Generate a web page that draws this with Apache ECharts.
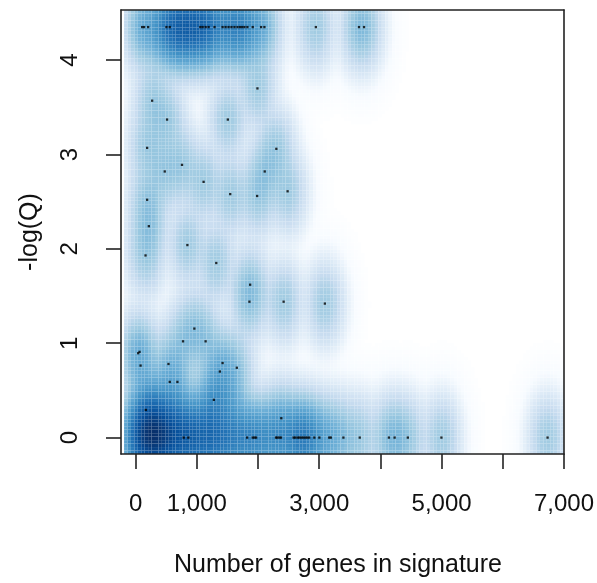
<!DOCTYPE html>
<html><head><meta charset="utf-8">
<script src="https://cdn.jsdelivr.net/npm/echarts@6/dist/echarts.min.js"></script>
<style>html,body{margin:0;padding:0;background:#fff}#chart{width:597px;height:583px}</style>
</head><body><div id="chart"></div>
<script>
// Signatures drawn as dots (the lowest-density ones): genes in signature, -log(Q)
const markedGenes = [
  106,138,204,503,557,1057,1094,1143,1192,1289,1420,1469,1518,1566,1615,1664,1705,1741,1778,1826,1913,2050,2104,2945,3650,3732,
  785,861,1822,1913,1941,1968,2294,2315,2348,2375,2581,2608,2646,2673,2706,2738,2771,2803,2836,2920,3002,3163,3190,3395,3662,4139,4232,4448,4997,6732,
  513,1506,269,1990,187,2299,757,475,2109,1110,1545,1985,2483,187,215,845,161,1317,1871,1859,2418,3092,
  959,774,1143,41,63,80,536,557,682,1420,1376,1653,2380,166,1278
];
const markedNegLogQ = [
  4.35,4.35,4.35,4.35,4.35,4.35,4.35,4.35,4.35,4.35,4.35,4.35,4.35,4.35,4.35,4.35,4.35,4.35,4.35,4.35,4.35,4.35,4.35,4.35,4.35,4.35,
  0,0,0,0,0,0,0,0,0,0,0,0,0,0,0,0,0,0,0,0,0,0,0,0,0,0,0,0,0,0,
  3.37,3.37,3.57,3.70,3.07,3.06,2.89,2.82,2.82,2.71,2.58,2.56,2.61,2.52,2.24,2.04,1.93,1.85,1.62,1.44,1.44,1.42,
  1.155,1.02,1.02,0.894,0.908,0.763,0.78,0.59,0.59,0.79,0.70,0.74,0.205,0.293,0.40
];
// Signatures in dense areas (not drawn as dots): location and number of signatures
const denseGenes = [
  0,100,200,300,400,500,600,700,800,900,1000,1100,1200,1300,1400,1500,1600,1700,1800,2000,2100,2200,
  100,250,400,550,200,700,900,1200,1400,1600,
  400,500,600,700,800,900,1000,1100,1200,1300
];
const denseNegLogQ = [
  0,0,0,0,0,0,0,0,0,0,0,0,0,0,0,0,0,0,0,0,0,0,
  0.15,0.2,0.25,0.2,0.45,0.3,0.2,0.35,0.45,0.4,
  4.35,4.35,4.35,4.35,4.35,4.35,4.35,4.35,4.35,4.35
];
const denseCount = [
  3,6,7,7,6,5,4,3,3,3,3,3,3,3,3,2,2,2,1,1,1,1,
  2,3,2,2,1,1,1,2,2,1,
  1,2,3,4,4,4,3,2,1,1
];
const xTickValues = [0,1000,2000,3000,4000,5000,6000,7000];
const xLabelValues = [0,1000,3000,5000,7000];
const yTickValues = [0,1,2,3,4];
const blues9 = ['#F7FBFF','#DEEBF7','#C6DBEF','#9ECAE1','#6BAED6','#4292C6','#2171B5','#08519C','#08306B'];

// smoothed density (Gaussian kernel) on a 128 x 128 grid, as in smoothScatter
const X0 = -190, X1 = 7000, Y0 = -0.174, Y1 = 4.531, NB = 128;
const bx = 150, by = 0.21;
const pts = [];
markedGenes.forEach((g, i) => pts.push([g, markedNegLogQ[i], 1]));
denseGenes.forEach((g, i) => pts.push([g, denseNegLogQ[i], denseCount[i]]));
const dx = (X1 - X0) / NB, dy = (Y1 - Y0) / NB;
const cells = [];
let maxV = 0;
for (let i = 0; i < NB; i++) {
  for (let j = 0; j < NB; j++) {
    const cx = X0 + (i + 0.5) * dx, cy = Y0 + (j + 0.5) * dy;
    let s = 0;
    for (const p of pts) {
      const u = (cx - p[0]) / bx, v = (cy - p[1]) / by;
      const e = 0.5 * (u * u + v * v);
      if (e < 12) s += p[2] * Math.exp(-e);
    }
    const t = Math.pow(s, 0.25);
    if (t > maxV) maxV = t;
    cells.push([X0 + i * dx, Y0 + j * dy, X0 + (i + 1) * dx, Y0 + (j + 1) * dy, t]);
  }
}
cells.forEach(c => c[4] = c[4] / maxV);

const font = 'Liberation Sans, Arial, Helvetica, sans-serif';
const chart = echarts.init(document.getElementById('chart'), null, {renderer: 'canvas'});
const boxLine = {show: true, onZero: false, lineStyle: {color: '#222', width: 1.6}};
chart.setOption({
  animation: false,
  backgroundColor: '#fff',
  grid: {left: 121, top: 10, width: 445, height: 444},
  visualMap: {show: false, type: 'continuous', seriesIndex: 0, dimension: 4, min: 0, max: 1,
    inRange: {color: ['#FFFFFF'].concat(blues9)}},
  xAxis: [{
    type: 'value', min: -240, max: 7000, position: 'bottom', z: 10,
    axisLine: boxLine,
    axisTick: {show: true, customValues: xTickValues, length: 15, lineStyle: {color: '#222', width: 1.6}},
    axisLabel: {customValues: xLabelValues, margin: 38, fontSize: 24, color: '#111', fontFamily: font,
      formatter: v => v.toLocaleString('en-US')},
    splitLine: {show: false},
    name: 'Number of genes in signature', nameLocation: 'middle', nameGap: 99,
    nameTextStyle: {fontSize: 25, color: '#111', fontFamily: font, padding: [0, 9, 0, 0]}
  }, {
    type: 'value', min: -240, max: 7000, position: 'top', z: 10,
    axisLine: boxLine, axisTick: {show: false}, axisLabel: {show: false}, splitLine: {show: false}
  }],
  yAxis: [{
    type: 'value', min: -0.174, max: 4.531, position: 'left', z: 10,
    axisLine: boxLine,
    axisTick: {show: true, customValues: yTickValues, length: 15, lineStyle: {color: '#222', width: 1.6}},
    axisLabel: {customValues: yTickValues, rotate: 90, margin: 39, fontSize: 24, color: '#111', fontFamily: font},
    splitLine: {show: false},
    name: '-log(Q)', nameLocation: 'middle', nameGap: 78, nameRotate: 90,
    nameTextStyle: {fontSize: 25, color: '#111', fontFamily: font}
  }, {
    type: 'value', min: -0.174, max: 4.531, position: 'right', z: 10,
    axisLine: boxLine, axisTick: {show: false}, axisLabel: {show: false}, splitLine: {show: false}
  }],
  series: [{
    type: 'custom', xAxisIndex: 0, yAxisIndex: 0, progressive: 0, clip: true, z: 1,
    encode: {x: [0, 2], y: [1, 3]},
    data: cells,
    renderItem: function (params, api) {
      const p0 = api.coord([api.value(0), api.value(3)]);
      const p1 = api.coord([api.value(2), api.value(1)]);
      return {type: 'rect', shape: {x: p0[0], y: p0[1], width: p1[0] - p0[0], height: p1[1] - p0[1]},
        style: {fill: api.visual('color')}};
    }
  }, {
    type: 'scatter', xAxisIndex: 0, yAxisIndex: 0, z: 3,
    symbol: 'rect', symbolSize: 2.3, itemStyle: {color: '#000'},
    data: markedGenes.map((g, i) => [g, markedNegLogQ[i]])
  }]
});
</script></body></html>
